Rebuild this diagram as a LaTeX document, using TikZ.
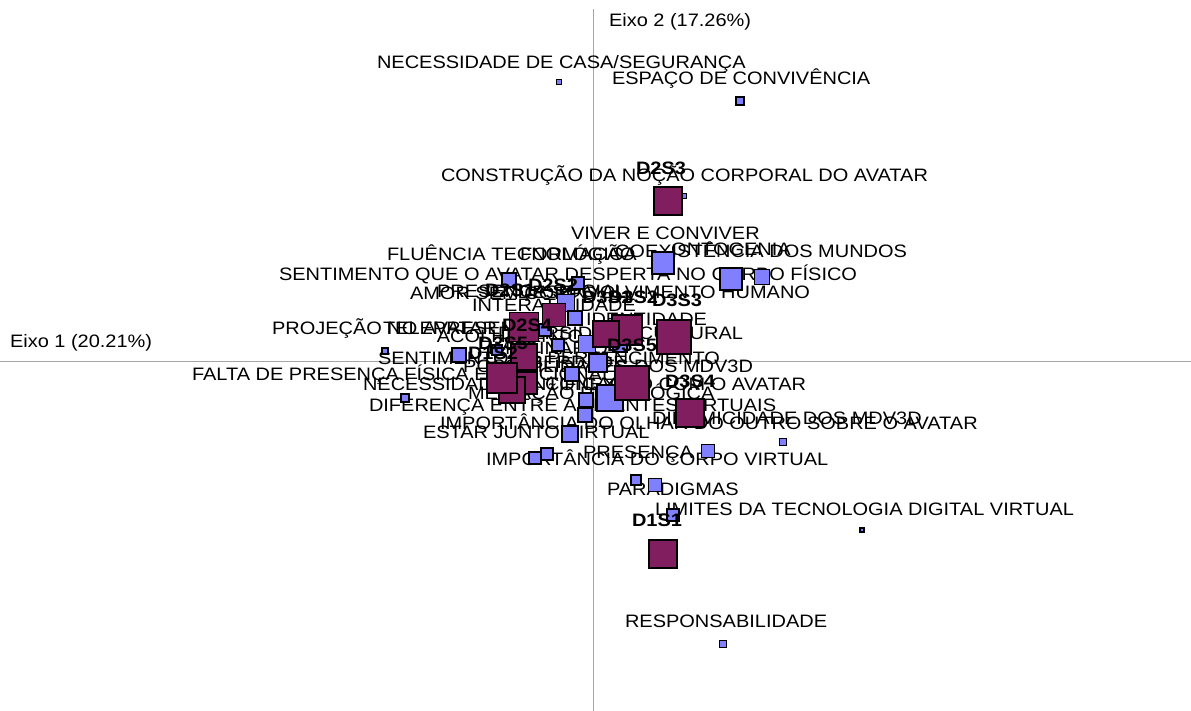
\documentclass[tikz,border=0pt]{standalone}
\usepackage{fontspec}
\setmainfont{Liberation Sans}[FakeStretch=1.11]
\definecolor{sqblue}{RGB}{128,128,255}
\definecolor{sqmaroon}{RGB}{128,30,95}
\definecolor{axisgray}{RGB}{165,165,165}
\tikzset{
  bsq/.style={draw=black, line width=1.1pt, fill=sqblue, inner sep=0pt, outer sep=0pt, shape=rectangle},
  msq/.style={draw=black, line width=1.1pt, fill=sqmaroon, inner sep=0pt, outer sep=0pt, shape=rectangle},
  lbl/.style={inner sep=0pt, outer sep=0pt, font=\fontsize{18}{20}\selectfont},
  dlbl/.style={inner sep=0pt, outer sep=0pt, font=\fontsize{18}{20}\selectfont\bfseries, anchor=base},
  axisline/.style={draw=axisgray, line width=0.8pt}
}
\begin{document}
\begin{tikzpicture}[x=1pt,y=-1pt]
\useasboundingbox[fill=white] (0,0) rectangle (1191,711);
% axes
\coordinate (vtop) at (593,9);
\coordinate (vbot) at (593,711);
\coordinate (hl) at (0,361);
\coordinate (hr) at (1191,361);
\draw[axisline] (vtop) -- (vbot);
\draw[axisline] (hl) -- (hr);
\node[lbl, anchor=base west] (ax2) at (609,27) {Eixo 2 (17.26\%)};
\node[lbl, anchor=base west] (ax1) at (10,347.5) {Eixo 1 (20.21\%)};

% labels of the modalities
\node[lbl, anchor=base west] (t1) at (377,68.5) {NECESSIDADE DE CASA/SEGURANÇA};
\node[lbl, anchor=base west] (t2) at (612,85) {ESPAÇO DE CONVIVÊNCIA};
\node[lbl, anchor=base west] (t3) at (441,181.5) {CONSTRUÇÃO DA NOÇÃO CORPORAL DO AVATAR};
\node[lbl, anchor=base west] (t4) at (571,239.5) {VIVER E CONVIVER};
\node[lbl, anchor=base west] (t5) at (387,260.5) {FLUÊNCIA TECNOLÓGICA};
\node[lbl, anchor=base west] (t6) at (520,260.5) {FORMAÇÃO};
\node[lbl, anchor=base east] (t7) at (907,257.5) {COEXISTÊNCIA DOS MUNDOS};
\node[lbl, anchor=base] (t8) at (731,255.5) {ONTOGENIA};
\node[lbl, anchor=base west] (t9) at (279,280.5) {SENTIMENTO QUE O AVATAR DESPERTA NO CORPO FÍSICO};
\node[lbl, anchor=base west] (t10) at (410,299.5) {AMOR SEM CORPO};
\node[lbl, anchor=base west] (t11) at (437,297.5) {PRESENÇA SOCIAL};
\node[lbl, anchor=base east] (t12) at (810,298.5) {DESENVOLVIMENTO HUMANO};
\node[lbl, anchor=base west] (t13) at (472,311.5) {INTERATIVIDADE};
\node[lbl, anchor=base east] (t14) at (707,325.5) {IDENTIDADE};
\node[lbl, anchor=base east] (t15) at (743,339.5) {DIVERSIDADE CULTURAL};
\node[lbl, anchor=base west] (t16) at (272,334.5) {PROJEÇÃO NO AVATAR};
\node[lbl, anchor=base west] (t17) at (383,334.5) {TELEPRESENÇA};
\node[lbl, anchor=base] (t18) at (510,342.5) {ACOLHIMENTO};
\node[lbl, anchor=base] (t19) at (548,354.5) {IMAGINÁRIO};
\node[lbl, anchor=base west] (t20) at (378,364.5) {SENTIMENTO DE PERTENCIMENTO};
\node[lbl, anchor=base] (t21) at (570,368.5) {LIBERDADE};
\node[lbl, anchor=base east] (t22) at (753,372.5) {POSSIBILIDADES DOS MDV3D};
\node[lbl, anchor=base west] (t23) at (192,380.5) {FALTA DE PRESENÇA FÍSICA E EMOCIONAL};
\node[lbl, anchor=base west] (t24) at (363,390.5) {NECESSIDADE DE CONEXÃO};
\node[lbl, anchor=base east] (t25) at (806,390.5) {IDENTIFICAÇÃO COM O AVATAR};
\node[lbl, anchor=base west] (t26) at (468,399.5) {MEDIAÇÃO PEDAGÓGICA};
\node[lbl, anchor=base west] (t27) at (369,411.5) {DIFERENÇA ENTRE AMBIENTES VIRTUAIS};
\node[lbl, anchor=base west] (t28) at (652,424.5) {DINAMICIDADE DOS MDV3D};
\node[lbl, anchor=base west] (t29) at (440,429.5) {IMPORTÂNCIA DO OLHAR DO OUTRO SOBRE O AVATAR};
\node[lbl, anchor=base west] (t30) at (423,438.5) {ESTAR JUNTO VIRTUAL};
\node[lbl, anchor=base west] (t31) at (583,458.5) {PRESENÇA};
\node[lbl, anchor=base west] (t32) at (486,465.5) {IMPORTÂNCIA DO CORPO VIRTUAL};
\node[lbl, anchor=base west] (t33) at (607,495.5) {PARADIGMAS};
\node[lbl, anchor=base west] (t34) at (655,515.5) {LIMITES DA TECNOLOGIA DIGITAL VIRTUAL};
\node[lbl, anchor=base west] (t35) at (625,627.5) {RESPONSABILIDADE};

% blue squares
\node[bsq, minimum size=5pt] (b1) at (559,82) {};
\node[bsq, minimum size=8pt] (b2) at (740,101) {};
\node[bsq, minimum size=5pt] (b3) at (684,196) {};
\node[bsq, minimum size=22pt] (b4) at (663,263) {};
\node[bsq, minimum size=15pt] (b5) at (762,277) {};
\node[bsq, minimum size=22pt] (b6) at (731,279) {};
\node[bsq, minimum size=14pt] (b7) at (509,280) {};
\node[bsq, minimum size=12pt] (b8) at (578,283) {};
\node[bsq, minimum size=17pt] (b9) at (566,303) {};
\node[bsq, minimum size=14pt] (b10) at (575,318) {};
\node[bsq, minimum size=12pt] (b11) at (545,330) {};
\node[bsq, minimum size=17pt] (b12) at (587,344) {};
\node[bsq, minimum size=12pt] (b13) at (558,345) {};
\node[bsq, minimum size=14pt] (b14) at (620,345) {};
\node[bsq, minimum size=14pt] (b15) at (459,355) {};
\node[bsq, minimum size=6pt] (b16) at (385,351) {};
\node[bsq, minimum size=10pt] (b17) at (497,350) {};
\node[bsq, minimum size=18pt] (b18) at (598,363) {};
\node[bsq, minimum size=14pt] (b19) at (572,374) {};
\node[bsq, minimum size=8pt] (b20) at (405,398) {};
\node[bsq, minimum size=14pt] (b21) at (586,400) {};
\node[bsq, minimum size=26pt] (b22) at (610,398) {};
\node[bsq, minimum size=14pt] (b23) at (585,415) {};
\node[bsq, minimum size=16pt] (b24) at (570,434) {};
\node[bsq, minimum size=12pt] (b25) at (547,454) {};
\node[bsq, minimum size=12pt] (b26) at (535,458) {};
\node[bsq, minimum size=13pt] (b27) at (708,451) {};
\node[bsq, minimum size=7pt] (b28) at (783,442) {};
\node[bsq, minimum size=10pt] (b29) at (636,480) {};
\node[bsq, minimum size=13pt] (b30) at (655,485) {};
\node[bsq, minimum size=12pt] (b31) at (673,515) {};
\node[bsq, minimum size=4pt] (b32) at (862,530) {};
\node[bsq, minimum size=7pt] (b33) at (723,644) {};

% maroon squares
\node[msq, minimum size=28pt] (m1) at (668,201) {};
\node[msq, minimum size=28pt] (m2) at (663,554) {};
\node[msq, minimum size=28pt] (m3) at (690,413) {};
\node[msq, minimum size=34pt] (m4) at (674,337) {};
\node[msq, minimum size=30pt] (m6) at (627,330) {};
\node[msq, minimum size=26pt] (m7) at (606,334) {};
\node[msq, minimum size=34pt] (m5) at (632,383) {};
\node[msq, minimum size=23pt] (m8) at (554,315) {};
\node[msq, minimum size=29pt] (m9) at (524,327) {};
\node[msq, minimum size=26pt] (m10) at (524,357) {};
\node[msq, minimum size=22pt] (m13) at (526,383) {};
\node[msq, minimum size=26pt] (m12) at (512,390) {};
\node[msq, minimum size=30pt] (m11) at (502,378) {};

% bold labels
\node[dlbl] (d1) at (661,174.5) {D2S3};
\node[dlbl] (d2) at (657,526.5) {D1S1};
\node[dlbl] (d3) at (690,387.5) {D3S4};
\node[dlbl] (d4) at (677,306.5) {D3S3};
\node[dlbl] (d5) at (632,351.5) {D3S5};
\node[dlbl] (d6) at (633,303.5) {D3S2};
\node[dlbl] (d7) at (607,303.5) {D3S1};
\node[dlbl] (d8) at (553,291.5) {D2S2};
\node[dlbl] (d9) at (510,296.5) {D2S1};
\node[dlbl] (d10) at (527,331.5) {D2S4};
\node[dlbl] (d11) at (503,349.5) {D2S5};
\node[dlbl] (d12) at (493,359.5) {D1S2};
\end{tikzpicture}
\end{document}
